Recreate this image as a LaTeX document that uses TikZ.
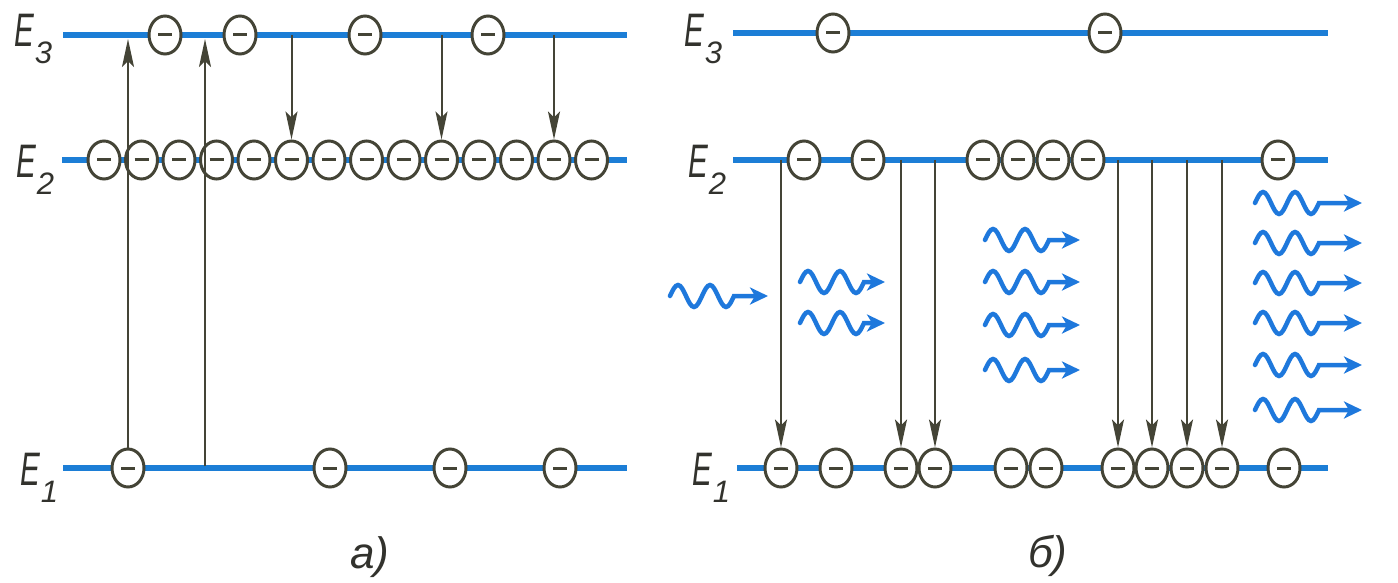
\documentclass[tikz,border=0pt]{standalone}
\usepackage{fontspec}
\setmainfont{Liberation Sans}
\usetikzlibrary{shapes.geometric,arrows.meta}
\definecolor{lvl}{RGB}{28,126,214}
\definecolor{wv}{RGB}{30,120,220}
\definecolor{ink}{RGB}{68,68,54}
\definecolor{txt}{RGB}{50,50,45}
\tikzset{
 lvlline/.style={draw=lvl,line width=6.5pt},
 el/.style={ellipse,draw=ink,line width=3pt,fill=white,minimum width=32pt,minimum height=38pt,inner sep=0pt,
   path picture={\draw[ink,line width=3pt] ([xshift=-7pt]path picture bounding box.center) -- ([xshift=7pt]path picture bounding box.center);}},
 trans/.style={draw=ink,line width=2pt,-{Stealth[length=28pt,width=12pt,inset=6pt]}},
 wav/.style={draw=wv,line width=4.5pt,line cap=round,-{Stealth[length=18pt,width=17pt,inset=5pt]}},
 lbl/.style={inner sep=0pt,anchor=base west,text=txt},
}
\newcommand\levlab[1]{{\fontsize{47}{47}\selectfont\itshape\scalebox{0.63}[1]{E}\kern1pt\raisebox{-17pt}{\fontsize{31}{31}\selectfont #1}}}
\newcommand\photonwave[3]{\draw[wav] (#1,#2) sin ++(8,-11) cos ++(8,11) sin ++(8,11) cos ++(8,-11) sin ++(8,-11) cos ++(8,11) sin ++(8,11) cos ++(8,-11) -- ++(#3,0);}
\begin{document}
\begin{tikzpicture}[x=1pt,y=-1pt]
\useasboundingbox (0,0) rectangle (1398,583);
% ---------- panel a ----------
\coordinate (A3s) at (63,35);  \coordinate (A3e) at (627,35);
\coordinate (A2s) at (62,160); \coordinate (A2e) at (627,160);
\coordinate (A1s) at (63,468); \coordinate (A1e) at (627,468);
\draw[lvlline] (A3s) -- (A3e);
\draw[lvlline] (A2s) -- (A2e);
\draw[lvlline] (A1s) -- (A1e);
\node[lbl] (la3) at (14,47) {\levlab{3}};
\node[lbl] (la2) at (16,178) {\levlab{2}};
\node[lbl] (la1) at (20,485) {\levlab{1}};
\foreach \x [count=\k] in {165,240,365,488} \node[el] (a3-\k) at (\x,35) {};
\foreach \k in {1,...,14} \node[el] (a2-\k) at ({66.5+37.5*\k},160) {};
\foreach \x [count=\k] in {128,330,450,560} \node[el] (a1-\k) at (\x,468) {};
\coordinate (u2s) at (205,466);
\coordinate (u2e) at (205,39);
\coordinate (u1e) at (128,39);
\draw[trans] (a1-1.north) -- (u1e);
\draw[trans] (u2s) -- (u2e);
\foreach \k in {6,10,13} \draw[trans] (a2-\k |- A3s) -- (a2-\k.north);
\node[lbl] (capa) at (350,568) {\fontsize{44}{44}\selectfont\itshape а)};
% ---------- panel b ----------
\coordinate (B3s) at (733,33);  \coordinate (B3e) at (1328,33);
\coordinate (B2s) at (733,160); \coordinate (B2e) at (1328,160);
\coordinate (B1s) at (737,468); \coordinate (B1e) at (1328,468);
\draw[lvlline] (B3s) -- (B3e);
\draw[lvlline] (B2s) -- (B2e);
\draw[lvlline] (B1s) -- (B1e);
\node[lbl] (lb3) at (684,47) {\levlab{3}};
\node[lbl] (lb2) at (688,178) {\levlab{2}};
\node[lbl] (lb1) at (692,485) {\levlab{1}};
\foreach \x [count=\k] in {833,1105} \node[el] (b3-\k) at (\x,33) {};
\foreach \x [count=\k] in {804,868,983,1018,1053,1088,1278} \node[el] (b2-\k) at (\x,160) {};
\foreach \x [count=\k] in {781,836,901,935,1011,1046,1118,1152,1187,1222,1284} \node[el] (b1-\k) at (\x,468) {};
\foreach \k in {1,3,4,7,8,9,10} \draw[trans] (b1-\k |- B2s) -- (b1-\k.north);
\photonwave{670}{296}{34}
\foreach \y in {282,323} {\photonwave{800}{\y}{21}}
\foreach \y in {240,282,325,370} {\photonwave{985}{\y}{31}}
\foreach \y in {203,243,283,323,365,410} {\photonwave{1255}{\y}{43}}
\node[lbl] (capb) at (1028,567) {\fontsize{44}{44}\selectfont\itshape б)};
\end{tikzpicture}
\end{document}
